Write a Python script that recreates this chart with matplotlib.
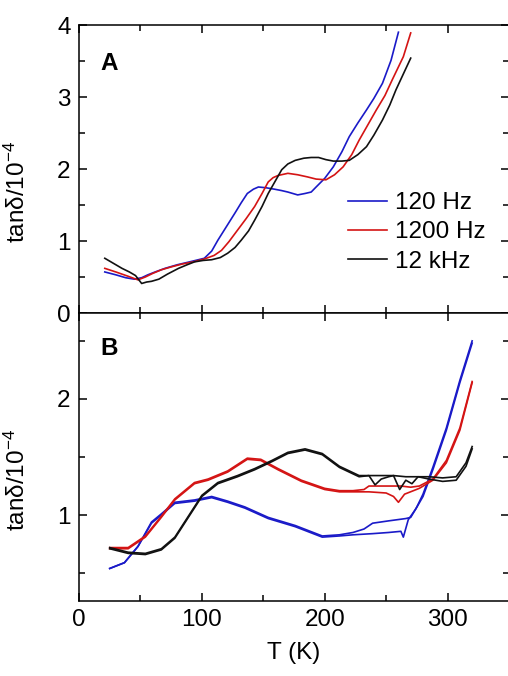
import matplotlib
matplotlib.use("Agg")
import matplotlib.pyplot as plt
from matplotlib.ticker import MultipleLocator

plt.rcParams['font.family'] = ['Liberation Sans', 'DejaVu Sans']
plt.rcParams['mathtext.default'] = 'regular'

# Panel A
tA_blue = [21, 30, 38, 45, 51, 56, 62, 70, 80, 90, 102, 108, 113, 120, 127, 132, 137, 142, 146, 152, 159, 165, 170, 178, 184, 189, 193, 200, 207, 214, 220, 227, 234, 240, 247, 254, 260]
yA_blue = [0.57, 0.53, 0.49, 0.47, 0.49, 0.53, 0.57, 0.62, 0.67, 0.71, 0.76, 0.86, 1.01, 1.20, 1.39, 1.53, 1.66, 1.72, 1.75, 1.74, 1.72, 1.70, 1.68, 1.64, 1.66, 1.68, 1.75, 1.87, 2.03, 2.24, 2.45, 2.64, 2.82, 2.98, 3.19, 3.51, 3.90]
tA_red = [21, 30, 40, 48, 54, 60, 67, 75, 84, 93, 102, 110, 116, 122, 129, 136, 143, 149, 154, 158, 162, 170, 178, 186, 193, 201, 208, 215, 222, 228, 235, 242, 249, 255, 264, 270]
yA_red = [0.62, 0.57, 0.51, 0.46, 0.50, 0.55, 0.60, 0.64, 0.68, 0.71, 0.75, 0.80, 0.87, 0.99, 1.15, 1.31, 1.48, 1.66, 1.82, 1.88, 1.91, 1.94, 1.92, 1.89, 1.86, 1.85, 1.92, 2.03, 2.20, 2.40, 2.61, 2.82, 3.02, 3.24, 3.56, 3.89]
tA_black = [21, 28, 35, 41, 46, 51, 55, 59, 65, 72, 81, 88, 94, 101, 108, 115, 121, 127, 132, 138, 143, 149, 154, 160, 165, 170, 176, 183, 189, 195, 201, 207, 214, 220, 227, 234, 240, 247, 253, 258, 264, 270]
yA_black = [0.76, 0.69, 0.62, 0.57, 0.52, 0.41, 0.43, 0.44, 0.47, 0.54, 0.62, 0.67, 0.71, 0.73, 0.74, 0.77, 0.83, 0.91, 1.01, 1.14, 1.29, 1.48, 1.66, 1.84, 1.99, 2.07, 2.12, 2.15, 2.16, 2.16, 2.13, 2.11, 2.11, 2.12, 2.20, 2.31, 2.47, 2.68, 2.89, 3.10, 3.32, 3.54]

# Panel B (two runs per frequency)
tB_blue1 = [25, 37, 48, 59, 67, 78, 94, 108, 121, 135, 154, 176, 198, 212, 223, 239, 252, 262, 264, 268, 274, 280, 288, 299, 310, 320]
yB_blue1 = [0.54, 0.59, 0.73, 0.93, 1.00, 1.10, 1.12, 1.15, 1.11, 1.06, 0.97, 0.90, 0.81, 0.82, 0.83, 0.84, 0.85, 0.86, 0.81, 0.96, 1.05, 1.16, 1.39, 1.73, 2.14, 2.48]
tB_blue2 = [25, 37, 48, 59, 67, 78, 94, 108, 121, 135, 154, 176, 198, 212, 223, 232, 239, 252, 266, 270, 275, 280, 288, 299, 310, 320]
yB_blue2 = [0.54, 0.59, 0.73, 0.94, 1.01, 1.11, 1.13, 1.16, 1.12, 1.07, 0.98, 0.91, 0.82, 0.83, 0.85, 0.88, 0.93, 0.95, 0.97, 0.98, 1.07, 1.18, 1.41, 1.75, 2.16, 2.50]
tB_red1 = [25, 40, 54, 67, 78, 94, 105, 121, 137, 148, 162, 181, 200, 212, 223, 236, 250, 256, 260, 265, 277, 288, 299, 310, 320]
yB_red1 = [0.71, 0.71, 0.81, 0.98, 1.13, 1.27, 1.30, 1.37, 1.48, 1.47, 1.39, 1.29, 1.22, 1.20, 1.20, 1.20, 1.19, 1.16, 1.11, 1.18, 1.23, 1.30, 1.45, 1.73, 2.14]
tB_red2 = [25, 40, 54, 67, 78, 94, 105, 121, 137, 148, 162, 181, 200, 212, 223, 232, 236, 250, 262, 270, 277, 288, 299, 310, 320]
yB_red2 = [0.72, 0.72, 0.82, 0.99, 1.14, 1.28, 1.31, 1.38, 1.49, 1.48, 1.40, 1.30, 1.23, 1.21, 1.21, 1.22, 1.25, 1.25, 1.25, 1.24, 1.25, 1.31, 1.47, 1.75, 2.15]
tB_black1 = [25, 40, 54, 67, 78, 89, 100, 113, 129, 143, 157, 170, 184, 198, 212, 228, 236, 246, 256, 266, 274, 285, 296, 307, 315, 320]
yB_black1 = [0.71, 0.67, 0.66, 0.70, 0.80, 0.98, 1.16, 1.27, 1.33, 1.39, 1.46, 1.53, 1.56, 1.52, 1.41, 1.33, 1.34, 1.34, 1.34, 1.33, 1.33, 1.33, 1.32, 1.33, 1.45, 1.59]
tB_black2 = [25, 40, 54, 67, 78, 89, 100, 113, 129, 143, 157, 170, 184, 198, 212, 228, 236, 241, 246, 252, 256, 261, 266, 271, 276, 285, 296, 307, 315, 320]
yB_black2 = [0.72, 0.68, 0.67, 0.71, 0.81, 0.99, 1.17, 1.28, 1.34, 1.40, 1.47, 1.54, 1.57, 1.53, 1.42, 1.34, 1.34, 1.26, 1.31, 1.33, 1.34, 1.22, 1.30, 1.27, 1.33, 1.31, 1.29, 1.30, 1.42, 1.57]

labels = ['120 Hz', '1200 Hz', '12 kHz']
BLUE, RED, BLACK = '#1a1ac8', '#d41414', '#111111'
FS = 17.5
LW = 1.2

fig = plt.figure(figsize=(5.08, 6.76), dpi=100)
axA = fig.add_axes([79 / 508, 1 - 313 / 676, 430 / 508, 288 / 676])
axB = fig.add_axes([79 / 508, 1 - 601 / 676, 430 / 508, 288 / 676])

axA.plot(tA_blue, yA_blue, color=BLUE, lw=LW, label=labels[0])
axA.plot(tA_red, yA_red, color=RED, lw=LW, label=labels[1])
axA.plot(tA_black, yA_black, color=BLACK, lw=LW, label=labels[2])

for t, y, c in [(tB_blue1, yB_blue1, BLUE), (tB_blue2, yB_blue2, BLUE),
                (tB_red1, yB_red1, RED), (tB_red2, yB_red2, RED),
                (tB_black1, yB_black1, BLACK), (tB_black2, yB_black2, BLACK)]:
    axB.plot(t, y, color=c, lw=LW)

axA.set_ylim(0, 4)
axA.yaxis.set_major_locator(MultipleLocator(1))
axA.yaxis.set_minor_locator(MultipleLocator(0.5))
axB.set_ylim(0.26, 2.74)
axB.yaxis.set_major_locator(MultipleLocator(1))
axB.yaxis.set_minor_locator(MultipleLocator(0.5))

for ax in (axA, axB):
    ax.set_xlim(0, 350)
    ax.xaxis.set_major_locator(MultipleLocator(100))
    ax.xaxis.set_minor_locator(MultipleLocator(50))
    ax.tick_params(which='both', direction='in', top=True, right=True, width=1.1, labelsize=FS, pad=6)
    ax.tick_params(which='major', length=5.5)
    ax.tick_params(which='minor', length=4.5)
    for s in ax.spines.values():
        s.set_linewidth(1.1)
    ax.set_ylabel(r'tan$\delta$/10$^{-4}$', fontsize=FS)
    ax.yaxis.set_label_coords(-0.115, 0.42)

axA.tick_params(axis='x', labelbottom=False)
axB.set_xlabel('T (K)', fontsize=FS, labelpad=8)

axA.text(0.049, 0.906, 'A', transform=axA.transAxes, fontsize=FS, fontweight='bold', va='top', ha='left')
axB.text(0.049, 0.917, 'B', transform=axB.transAxes, fontsize=FS, fontweight='bold', va='top', ha='left')

axA.legend(loc='upper left', bbox_to_anchor=(0.626, 0.42), frameon=False, fontsize=FS,
           borderpad=0, borderaxespad=0, handlelength=1.6, handletextpad=0.33, labelspacing=0.3)

fig.savefig('out.png', dpi=100)
